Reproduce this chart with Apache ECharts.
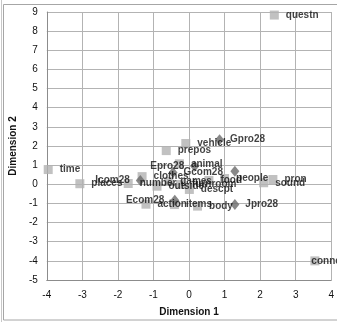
<!DOCTYPE html>
<html>
<head>
<meta charset="utf-8">
<script src="https://cdn.jsdelivr.net/npm/echarts@6/dist/echarts.min.js"></script>
<style>
  html, body { margin: 0; padding: 0; background: #fff; }
  #chart { width: 337px; height: 322px; }
</style>
</head>
<body>
<div id="chart"></div>
<script>
// category words (grey squares)
const wordNames = ['questn', 'time', 'places', 'number', 'prepos', 'vehicle', 'animal', 'clothes',
                   'outside', 'games', 'furnroom', 'descpt', 'food', 'people', 'sound', 'pron',
                   'action', 'items', 'body', 'connect']
const wordX = [2.40, -3.96, -3.07, -1.71, -0.64, -0.09, -0.27, -1.32,
               -0.90, -0.57, -0.24, 0.01, 0.56, 1.00, 2.10, 2.36,
               -1.21, -0.41, 0.24, 3.54]
const wordY = [8.84, 0.77, 0.03, 0.04, 1.76, 2.13, 1.07, 0.40,
               -0.10, 0.15, -0.01, -0.27, 0.20, 0.30, 0.08, 0.25,
               -1.04, -1.06, -1.14, -4.00]

// language groups (dark diamonds)
const groupNames = ['Gpro28', 'Epro28', 'Gcom28', 'Icom28', 'Ecom28', 'Jpro28', 'Jcom28']
const groupX = [0.86, 0.16, -0.45, -1.37, -0.40, 1.29, 1.29]
const groupY = [2.33, 0.94, 0.62, 0.20, -0.84, -1.05, 0.68]

// axis ticks
const xTicks = [-4, -3, -2, -1, 0, 1, 2, 3, 4]
const yTicks = [-5, -4, -3, -2, -1, 0, 1, 2, 3, 4, 5, 6, 7, 8, 9]

// label placement tweaks (style only)
const labelLeft = { Epro28: 1, Icom28: 1, Ecom28: 1 }
const labelHidden = { Jcom28: 1 }
const labelShift = { connect: [-15, 0] }

const FONT = '"Liberation Sans", Arial, sans-serif'
const labelStyle = { fontFamily: FONT, fontSize: 10, fontWeight: 'bold', color: '#111', formatter: '{b}' }

const toPoints = ( names, xs, ys ) => names.map(( name, i ) => ({
    name,
    value : [ xs[ i ], ys[ i ] ],
    label : {
        show : !labelHidden[ name ],
        position : labelLeft[ name ] ? 'left' : 'right',
        offset : labelShift[ name ] || [0, 0],
    }
}))

const mychart = echarts.init( document.getElementById('chart') )

mychart.setOption({
    animation : false,
    grid : { left : 43.5, right : 5.5, top : 12, bottom : 41 },
    graphic : [
        { type : 'rect', shape : { x : 3.5, y : 4.5, width : 360, height : 315.5 },
          style : { fill : null, stroke : '#a6a6a6', lineWidth : 1 }, silent : true },
        { type : 'line', shape : { x1 : 1.5, y1 : 0, x2 : 1.5, y2 : 322 },
          style : { stroke : '#c8c8c8', lineWidth : 1 }, silent : true },
    ],
    xAxis : {
        type : 'value', min : xTicks[0], max : xTicks[ xTicks.length - 1 ], interval : 1,
        name : 'Dimension 1', nameLocation : 'middle', nameGap : 27,
        nameTextStyle : { fontFamily : FONT, fontSize : 10, fontWeight : 'bold', color : '#111' },
        axisLine : { onZero : false, lineStyle : { color : '#8c8c8c', width : 1 } },
        axisTick : { show : false },
        axisLabel : { fontFamily : FONT, fontSize : 10, color : '#111', margin : 10 },
        splitLine : { lineStyle : { color : '#b3b3b3', width : 1 } },
    },
    yAxis : {
        type : 'value', min : yTicks[0], max : yTicks[ yTicks.length - 1 ], interval : 1,
        name : 'Dimension 2', nameLocation : 'middle', nameGap : 27, nameRotate : 90,
        nameTextStyle : { fontFamily : FONT, fontSize : 10, fontWeight : 'bold', color : '#111' },
        axisLine : { show : true, onZero : false, lineStyle : { color : '#8c8c8c', width : 1 } },
        axisTick : { show : false },
        axisLabel : { fontFamily : FONT, fontSize : 10, color : '#111', margin : 9 },
        splitLine : { lineStyle : { color : '#b3b3b3', width : 1 } },
    },
    series : [
        {
            type : 'scatter',
            symbol : 'rect',
            symbolSize : 9,
            itemStyle : { color : '#b2b2b2' },
            label : { ...labelStyle, distance : 7 },
            data : toPoints( wordNames, wordX, wordY ),
        },
        {
            type : 'scatter',
            symbol : 'diamond',
            symbolSize : [9, 11],
            itemStyle : { color : '#6a6a6a' },
            label : { ...labelStyle, distance : 6 },
            data : toPoints( groupNames, groupX, groupY ),
        },
    ],
})
</script>
</body>
</html>
